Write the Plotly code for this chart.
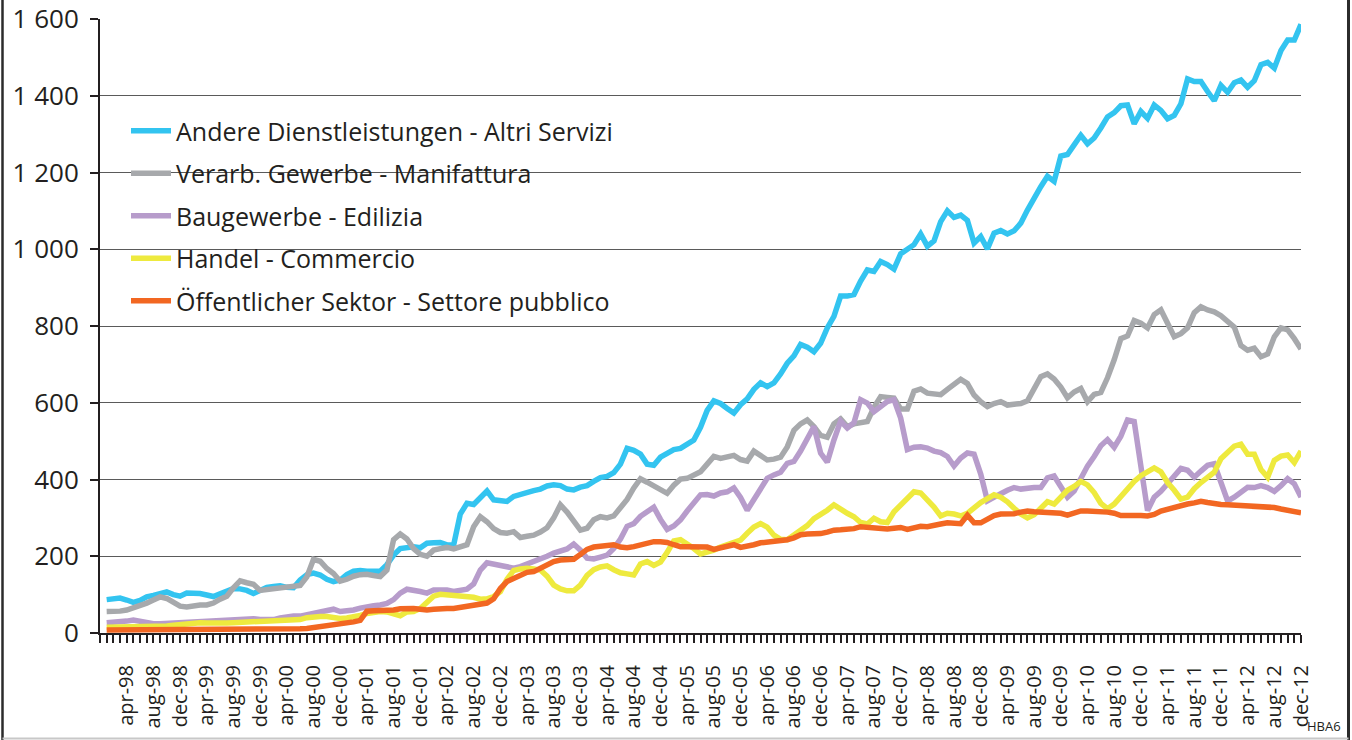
import plotly.graph_objects as go

# ---------------- data ----------------
month_names = ["jan", "feb", "mar", "apr", "may", "jun", "jul", "aug", "sep", "oct", "nov", "dec"]
years = list(range(1998, 2013))
months = [f"{m}-{y % 100:02d}" for y in years for m in month_names]

series_names = [
    "Andere Dienstleistungen - Altri Servizi",
    "Verarb. Gewerbe - Manifattura",
    "Baugewerbe - Edilizia",
    "Handel - Commercio",
    "Öffentlicher Sektor - Settore pubblico",
]

altri_servizi = [
    87, 90, 91, 86, 80, 85, 94, 98, 101, 107,
    100, 96, 104, 104, 103, 99, 95, 102, 110, 116,
    115, 111, 103, 110, 119, 121, 123, 119, 118, 138,
    152, 156, 151, 140, 134, 138, 152, 161, 163, 161,
    160, 161, 178, 203, 220, 224, 225, 222, 234, 235,
    236, 230, 229, 310, 338, 335, 355, 370, 347, 344,
    343, 356, 362, 367, 371, 375, 383, 386, 384, 375,
    373, 380, 384, 395, 405, 408, 418, 440, 481, 476,
    466, 440, 437, 458, 468, 478, 481, 490, 503, 536,
    580, 605, 598, 585, 573, 595, 610, 635, 652, 642,
    652, 675, 703, 722, 752, 745, 733, 755, 795, 825,
    878, 878, 882, 917, 946, 942, 968, 960, 948, 988,
    998, 1012, 1040, 1008, 1022, 1072, 1100, 1083, 1089, 1075,
    1016, 1033, 1001, 1042, 1049, 1040, 1048, 1068, 1102, 1135,
    1163, 1190, 1177, 1243, 1247, 1272, 1297, 1275, 1290, 1316,
    1345, 1356, 1374, 1376, 1327, 1359, 1341, 1376, 1362, 1340,
    1349, 1379, 1444, 1437, 1437, 1411, 1387, 1427, 1409, 1434,
    1441, 1422, 1439, 1481, 1487, 1472, 1518, 1545, 1545, 1586,
]

manifattura = [
    56, 56, 57, 60, 65, 72, 78, 86, 94, 90,
    80, 70, 68, 72, 73, 73, 78, 88, 96, 118,
    136, 131, 127, 111, 113, 115, 119, 121, 122, 124,
    146, 192, 187, 168, 155, 135, 140, 148, 152, 153,
    150, 147, 164, 243, 258, 245, 220, 205, 200, 216,
    220, 223, 219, 223, 230, 277, 303, 290, 272, 262,
    260, 264, 249, 252, 255, 263, 274, 300, 334, 315,
    290, 268, 273, 295, 303, 300, 305, 325, 348, 378,
    402, 393, 382, 372, 364, 385, 401, 403, 410, 420,
    440, 460, 455, 460, 463, 452, 448, 474, 462, 451,
    453, 458, 485, 528, 545, 555, 538, 515, 510, 545,
    558, 538, 545, 548, 551, 588, 616, 614, 612, 584,
    584, 630, 636, 625, 622, 621, 635, 648, 661, 650,
    620, 603, 590, 598, 603, 594, 595, 598, 605, 638,
    668, 675, 662, 641, 613, 628, 637, 603, 622, 627,
    665, 712, 767, 774, 814, 807, 795, 830, 842, 807,
    772, 780, 795, 835, 850, 842, 837, 827, 812, 797,
    749, 737, 742, 720, 727, 772, 795, 790, 767, 740,
]

edilizia = [
    27, 28, 28, 31, 34, 30, 26, 24, 24, 25,
    26, 27, 28, 29, 30, 32, 33, 33, 34, 36,
    37, 37, 37, 35, 34, 35, 39, 43, 44, 44,
    48, 53, 57, 61, 62, 56, 57, 60, 65, 69,
    71, 73, 77, 87, 104, 114, 112, 108, 104, 112,
    112, 112, 108, 111, 114, 128, 164, 183, 180, 175,
    171, 169, 173, 179, 187, 194, 200, 208, 215, 219,
    232, 216, 195, 193, 198, 203, 220, 245, 278, 285,
    304, 314, 328, 296, 270, 279, 295, 318, 341, 360,
    361, 357, 365, 368, 378, 353, 320, 350, 378, 403,
    412, 419, 442, 447, 474, 506, 538, 469, 445, 503,
    552, 534, 548, 608, 599, 577, 588, 603, 608, 560,
    478, 484, 485, 482, 474, 470, 460, 435, 456, 469,
    466, 414, 344, 352, 363, 372, 379, 375, 378, 379,
    379, 404, 409, 379, 354, 370, 403, 435, 460, 488,
    504, 484, 513, 555, 551, 434, 319, 354, 369, 389,
    409, 429, 424, 406, 422, 437, 441, 394, 344, 354,
    369, 380, 379, 384, 379, 369, 384, 402, 389, 354,
]

commercio = [
    15, 15, 16, 16, 17, 17, 17, 17, 18, 18,
    20, 22, 24, 26, 27, 26, 25, 25, 26, 27,
    28, 29, 30, 28, 29, 30, 32, 34, 35, 35,
    40, 43, 43, 43, 40, 38, 39, 41, 46, 51,
    54, 56, 55, 50, 45, 55, 56, 64, 82, 96,
    101, 100, 99, 97, 95, 93, 88, 89, 95, 108,
    140, 163, 167, 169, 167, 164, 148, 125, 115, 110,
    110, 125, 150, 165, 172, 175, 165, 157, 154, 151,
    180, 186, 176, 185, 210, 240, 243, 233, 220, 206,
    210, 216, 224, 230, 234, 242, 260, 276, 285, 276,
    255, 244, 243, 255, 270, 280, 298, 308, 320, 334,
    325, 312, 303, 288, 284, 299, 290, 288, 316, 335,
    352, 368, 365, 347, 328, 305, 312, 310, 305, 312,
    328, 340, 350, 360, 354, 342, 325, 310, 300, 308,
    325, 342, 336, 355, 372, 382, 395, 386, 366, 338,
    324, 336, 356, 375, 395, 410, 420, 430, 420, 392,
    372, 349, 354, 376, 392, 404, 419, 454, 472, 487,
    492, 466, 466, 426, 406, 450, 461, 464, 444, 474,
]

settore_pubblico = [
    8, 8, 8, 8, 8, 8, 8, 8, 8, 8,
    8, 8, 8, 8, 8, 8, 8, 8, 8, 8,
    8, 8, 8, 9, 9, 9, 9, 10, 10, 11,
    12, 14, 17, 19, 21, 23, 25, 29, 33, 57,
    58, 58, 59, 60, 63, 64, 64, 62, 60, 62,
    64, 64, 64, 67, 70, 73, 76, 78, 89, 116,
    134, 143, 152, 158, 160, 169, 180, 186, 190, 192,
    192, 205, 218, 224, 226, 227, 230, 224, 222, 225,
    230, 235, 238, 238, 236, 230, 225, 225, 225, 226,
    224, 218, 222, 226, 230, 223, 225, 230, 235, 237,
    238, 241, 243, 248, 256, 258, 257, 259, 263, 268,
    269, 269, 272, 277, 275, 273, 270, 271, 273, 275,
    270, 274, 278, 277, 282, 284, 287, 286, 285, 307,
    287, 287, 296, 306, 310, 310, 311, 315, 318, 316,
    315, 315, 315, 312, 307, 312, 318, 318, 318, 318,
    315, 312, 306, 306, 307, 306, 305, 309, 318, 323,
    325, 330, 336, 339, 343, 340, 336, 335, 334, 333,
    333, 332, 331, 331, 330, 327, 323, 319, 316, 313,
]

series_values = [altri_servizi, manifattura, edilizia, commercio, settore_pubblico]
series_colors = ["#33C4F0", "#A7A9AC", "#B79CCB", "#EEEA3E", "#F26722"]

tick_idx = [i for i, m in enumerate(months) if m[:3] in ("apr", "aug", "dec")]
tick_text = [months[i] for i in tick_idx]
y_ticks = [0, 200, 400, 600, 800, 1000, 1200, 1400, 1600]
y_tick_text = ["0", "200", "400", "600", "800", "1 000", "1 200", "1 400", "1 600"]

# ---------------- figure ----------------
W, H = 1352, 740
ML, MR, MT, MB = 100, 51, 19, 107
PW, PH = W - ML - MR, H - MT - MB


def px_x(x):
    return (x - ML) / PW


def px_y(y):
    return (H - MB - y) / PH


FONT = "Open Sans, Noto Sans, sans-serif"
INK = "#231f20"
x_idx = list(range(len(months)))

fig = go.Figure()
for name, vals, col in zip(series_names, series_values, series_colors):
    fig.add_trace(go.Scatter(
        x=x_idx, y=vals, name=name, mode="lines",
        line=dict(color=col, width=5.5),
        legendgroup=name,
        customdata=months,
        hovertemplate="%{customdata}: %{y}<extra>" + name + "</extra>",
    ))

shapes = [
    # white block behind the legend hiding gridlines
    dict(type="rect", xref="paper", yref="paper", layer="between",
         x0=px_x(102), x1=px_x(692), y0=px_y(318), y1=px_y(104),
         fillcolor="white", line=dict(width=0)),
    # frame fragments
    dict(type="line", xref="paper", yref="paper",
         x0=px_x(2.5), x1=px_x(2.5), y0=px_y(0), y1=px_y(740),
         line=dict(color="#2b2b2b", width=2.5)),
    dict(type="line", xref="paper", yref="paper",
         x0=px_x(1348.5), x1=px_x(1348.5), y0=px_y(0), y1=px_y(740),
         line=dict(color="#2b2b2b", width=3)),
    dict(type="line", xref="paper", yref="paper",
         x0=px_x(2.5), x1=px_x(1348.5), y0=px_y(738.5), y1=px_y(738.5),
         line=dict(color="#c8c8c8", width=2)),
]

fig.update_layout(
    width=W, height=H,
    margin=dict(l=ML, r=MR, t=MT, b=MB, pad=0, autoexpand=False),
    paper_bgcolor="white", plot_bgcolor="white",
    font=dict(family=FONT, color=INK),
    showlegend=True,
    legend=dict(
        x=px_x(126), y=px_y(108), xanchor="left", yanchor="top",
        bgcolor="rgba(0,0,0,0)", font=dict(size=25, family=FONT, color=INK),
        tracegroupgap=7, itemwidth=40,
    ),
    shapes=shapes,
    annotations=[dict(
        text="HBA6", xref="paper", yref="paper", x=px_x(1343), y=px_y(726),
        xanchor="right", yanchor="middle", showarrow=False,
        font=dict(size=13, family=FONT, color=INK),
    )],
    xaxis=dict(
        range=[-1, 179], tickmode="array", tickvals=tick_idx, ticktext=tick_text,
        tickangle=-90, ticks="outside", ticklen=8, tickwidth=1.5, tickcolor=INK,
        showline=True, linecolor=INK, linewidth=2, automargin=False,
        showgrid=False, zeroline=False, ticklabelstandoff=14,
        tickfont=dict(size=20, family=FONT, color=INK),
        minor=dict(tickmode="linear", tick0=0, dtick=1, ticks="outside",
                   ticklen=8, tickwidth=1.5, tickcolor=INK, showgrid=False),
    ),
    yaxis=dict(
        range=[0, 1600], tickmode="array", tickvals=y_ticks, ticktext=y_tick_text,
        ticks="outside", ticklen=8, tickwidth=1.5, tickcolor=INK,
        showline=True, linecolor=INK, linewidth=2, automargin=False,
        showgrid=True, gridcolor="#5a5a5a", gridwidth=1.3, zeroline=False,
        ticklabelstandoff=6,
        tickfont=dict(size=26, family=FONT, color=INK),
    ),
)

fig.write_html("out.html", include_plotlyjs=True, config={"displayModeBar": False},
               post_script="document.body.style.margin='0';document.body.style.overflow='hidden';")
